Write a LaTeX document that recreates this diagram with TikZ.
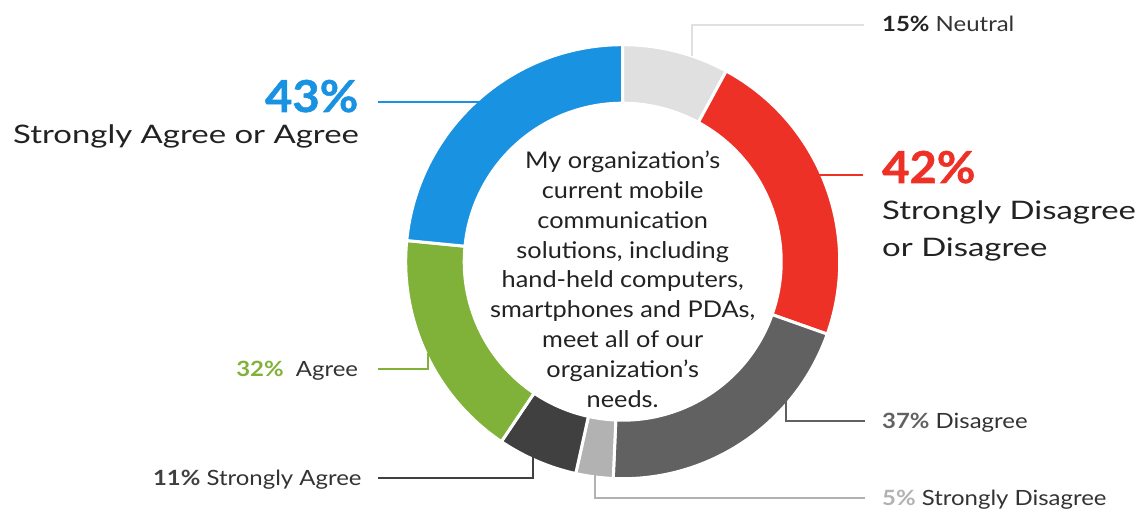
\documentclass[tikz,border=0pt]{standalone}
\usepackage{fontspec}
\setmainfont{Lato}
\newfontfamily\fbig[FakeStretch=1.29]{Lato}
\newfontfamily\fctr[FakeStretch=1.1]{Lato}
\newfontfamily\flbl[FakeStretch=1.14]{Lato}
\newfontfamily\fpct[FakeStretch=1.07,FakeBold=1.2]{Lato}
\usetikzlibrary{calc}
\definecolor{cblue}{HTML}{1A92E2}
\definecolor{cred}{HTML}{EE3127}
\definecolor{cgreen}{HTML}{80B23A}
\definecolor{cneutral}{HTML}{E0E0E0}
\definecolor{cdgray}{HTML}{616161}
\definecolor{clgray}{HTML}{B2B2B2}
\definecolor{cdark}{HTML}{404040}
\definecolor{ctext}{HTML}{222222}
\definecolor{clab}{HTML}{333333}
\newcommand{\fsz}[2]{\fontsize{#1}{#2}\selectfont}
\newcommand{\ringseg}[3]{\filldraw[seg,fill=#3] ($(C)+(#1:158.5)$) arc[start angle=#1,end angle=#2,radius=158.5] -- ($(C)+(#2:217)$) arc[start angle=#2,end angle=#1,radius=217] -- cycle;}
\begin{document}
\begin{tikzpicture}[x=1pt,y=1pt,
  seg/.style={draw=white,line width=3pt},
  lead/.style={line width=2pt},
  lbl/.style={inner sep=0pt,font=\flbl\fsz{21}{24},text=clab},
  big/.style={inner sep=0pt,font=\fbig\fsz{25.5}{30},text=ctext},
  pct/.style={inner sep=0pt,font=\fpct\fsz{44}{44}\bfseries}]
\useasboundingbox (0,0) rectangle (1142,512);
\coordinate (C) at (622.7,250.3);
% ring
\ringseg{90}{61.5}{cneutral}
\ringseg{61.5}{-19.5}{cred}
\ringseg{-19.5}{-92.5}{cdgray}
\ringseg{-92.5}{-102.5}{clgray}
\ringseg{-102.5}{-124}{cdark}
\ringseg{-124}{-185.6}{cgreen}
\ringseg{-185.6}{-270}{cblue}
% centre text
\node[inner sep=0pt,align=center,font=\fctr\fsz{23}{29.8},text=ctext] (q) at (622.7,232.8)
 {My organization’s\\current mobile\\communication\\solutions, including\\hand-held computers,\\smartphones and PDAs,\\meet all of our\\organization’s\\needs.};
% labels
\node[pct,anchor=base east,text=cblue] (p43) at (358.5,400) {43\%};
\node[big,anchor=base west] (t43) at (13,368) {Strongly Agree or Agree};
\node[pct,anchor=base west,text=cred] (p42) at (882,329) {42\%};
\node[big,anchor=base west] (t42a) at (882,292) {Strongly Disagree};
\node[big,anchor=base west] (t42b) at (882,255) {or Disagree};
\node[lbl,anchor=base west] (n15) at (882,480.3) {{\color{ctext}\bfseries 15\%} Neutral};
\node[lbl,anchor=base west] (n37) at (882,83.5) {{\color{cdgray}\bfseries 37\%} Disagree};
\node[lbl,anchor=base west] (n5) at (882,7) {{\color{clgray}\bfseries 5\%} Strongly Disagree};
\node[lbl,anchor=base east] (n32) at (358.3,136) {{\color{cgreen}\bfseries 32\%}\ \ Agree};
\node[lbl,anchor=base east] (n11) at (361.7,27) {{\color{cdark}\bfseries 11\%} Strongly Agree};
% leader coordinates
\coordinate (a15) at (691.7,456); \coordinate (b15) at (691.7,487); \coordinate (c15) at (864,487);
\coordinate (a43) at (378.3,409.7); \coordinate (b43) at (479,409.7);
\coordinate (a42) at (819,337); \coordinate (b42) at (863.3,337);
\coordinate (a32) at (378.3,142.7); \coordinate (b32) at (428.3,142.7); \coordinate (c32) at (428.3,159);
\coordinate (a11) at (378.3,33.7); \coordinate (b11) at (533.3,33.7); \coordinate (c11) at (533.3,56);
\coordinate (a37) at (786,111); \coordinate (b37) at (786,91); \coordinate (c37) at (865,91);
\coordinate (a5) at (595,38); \coordinate (b5) at (595,13.7); \coordinate (c5) at (865,13.7);
% leaders
\draw[lead,cneutral] (a15) -- (b15) -- (c15);
\draw[lead,cblue] (a43) -- (b43);
\draw[lead,cred] (a42) -- (b42);
\draw[lead,cgreen] (a32) -- (b32) -- (c32);
\draw[lead,cdark] (a11) -- (b11) -- (c11);
\draw[lead,cdgray] (a37) -- (b37) -- (c37);
\draw[lead,clgray] (a5) -- (b5) -- (c5);
\end{tikzpicture}
\end{document}
